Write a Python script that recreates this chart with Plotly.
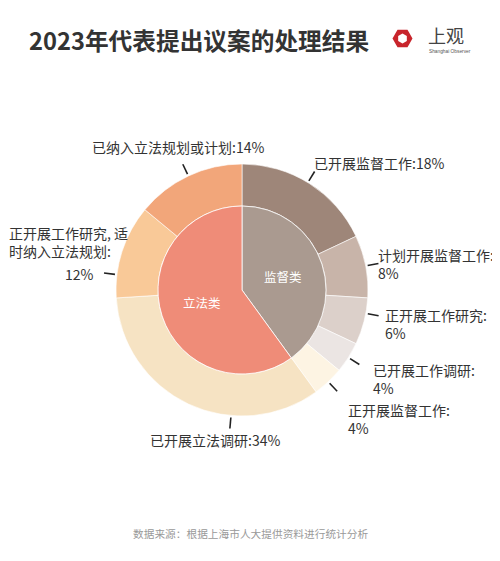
import numpy as np
import plotly.graph_objects as go

# data
inner_labels = ["监督类", "立法类"]
inner_values = [40, 60]
outer_labels = ["已开展监督工作", "计划开展监督工作", "正开展工作研究", "已开展工作调研",
                "正开展监督工作", "已开展立法调研", "正开展工作研究, 适时纳入立法规划",
                "已纳入立法规划或计划"]
outer_values = [18, 8, 6, 4, 4, 34, 12, 14]

inner_colors = ["#aa9a90", "#ef8c78"]
outer_colors = ["#9e8679", "#c8b4a9", "#dcd0ca", "#ebe5e3",
                "#fdf4e3", "#f6e3c3", "#f9c998", "#f2a67a"]

# the page body has an 8px margin, so the figure is drawn 8px in from the corner
OFF = 8
W, H = 500 - OFF, 561 - OFF
CX, CY = 242, 290          # pie centre in page pixels
R_OUT, R_IN = 126, 84
FONT = "Noto Sans CJK SC"


def px(x):
    return (x - OFF) / W


def py(y):
    return 1 - (y - OFF) / H


def dom(r):
    return dict(x=[px(CX - r), px(CX + r)], y=[py(CY + r), py(CY - r)])


fig = go.Figure()
fig.add_trace(go.Pie(
    labels=outer_labels, values=outer_values, sort=False, direction="clockwise",
    hole=R_IN / R_OUT, domain=dom(R_OUT), textinfo="none", hoverinfo="label+percent",
    marker=dict(colors=outer_colors, line=dict(color="white", width=0.6)),
    showlegend=False,
))
fig.add_trace(go.Pie(
    labels=inner_labels, values=inner_values, sort=False, direction="clockwise",
    domain=dom(R_IN), textinfo="label", textposition="inside",
    insidetextorientation="horizontal",
    textfont=dict(color="white", size=12.5, family=FONT),
    marker=dict(colors=inner_colors, line=dict(color="white", width=0.8)),
    showlegend=False,
))

# label placement: leader angle (deg clockwise from top), text anchor in page px
leader_angle = [31.5, 79, 100.7, 122.4, 136.8, 185, 277, 334.8]
label_text = ["已开展监督工作:18%", "计划开展监督工作:<br>8%", "正开展工作研究:<br>6%",
              "已开展工作调研:<br>4%", "正开展监督工作:<br>4%", "已开展立法调研:34%",
              "正开展工作研究, 适<br>时纳入立法规划:", "已纳入立法规划或计划:14%"]
label_pos = [(312, 163), (376, 264), (383, 324), (371, 379), (346, 419),
             (148, 440), (7, 242), (90, 147)]

shapes = []
for a in leader_angle:
    t = np.radians(a)
    x0, y0 = CX + 128 * np.sin(t), CY - 128 * np.cos(t)
    x1, y1 = CX + 139 * np.sin(t), CY - 139 * np.cos(t)
    shapes.append(dict(type="line", xref="paper", yref="paper",
                       x0=px(x0), y0=py(y0), x1=px(x1), y1=py(y1),
                       line=dict(color="#222", width=1.6)))

annos = []
for txt, (x, y) in zip(label_text, label_pos):
    annos.append(dict(text=txt, x=px(x), y=py(y), xref="paper", yref="paper",
                      xanchor="left", yanchor="middle", align="left", showarrow=False,
                      font=dict(size=14, color="#333", family=FONT)))
annos.append(dict(text="12%", x=px(79), y=py(274), xref="paper", yref="paper",
                  xanchor="center", yanchor="middle", showarrow=False,
                  font=dict(size=14, color="#333", family=FONT)))

# title, footnote, logo
annos.append(dict(text="<b>2023年代表提出议案的处理结果</b>", x=px(27), y=py(40),
                  xref="paper", yref="paper", xanchor="left", yanchor="middle",
                  showarrow=False, font=dict(size=23.7, color="#333", family=FONT)))
annos.append(dict(text="数据来源：根据上海市人大提供资料进行统计分析", x=px(250), y=py(533),
                  xref="paper", yref="paper", xanchor="center", yanchor="middle",
                  showarrow=False, font=dict(size=10.7, color="#999", family=FONT)))
annos.append(dict(text="上观", x=px(426), y=py(35), xref="paper", yref="paper",
                  xanchor="left", yanchor="middle", showarrow=False,
                  font=dict(size=18, color="#444", family=FONT)))
annos.append(dict(text="Shanghai Observer", x=px(427), y=py(51), xref="paper", yref="paper",
                  xanchor="left", yanchor="middle", showarrow=False,
                  font=dict(size=4.8, color="#555", family="Liberation Sans")))


def hex_path(cx, cy, r, rot):
    ang = np.radians(rot + np.arange(6) * 60)
    pts = [(px(cx + r * np.cos(t)), py(cy + r * np.sin(t))) for t in ang]
    return "M " + " L ".join(f"{a:.5f},{b:.5f}" for a, b in pts) + " Z"


shapes.append(dict(type="path", xref="paper", yref="paper", path=hex_path(402.5, 38.5, 10, 0),
                   fillcolor="#c8252c", line=dict(width=0)))
shapes.append(dict(type="path", xref="paper", yref="paper", path=hex_path(402.5, 38.5, 5, 30),
                   fillcolor="white", line=dict(width=0)))

fig.update_layout(
    width=W, height=H, margin=dict(l=0, r=0, t=0, b=0),
    paper_bgcolor="white", plot_bgcolor="white",
    shapes=shapes, annotations=annos,
)
fig.write_html("out.html")
